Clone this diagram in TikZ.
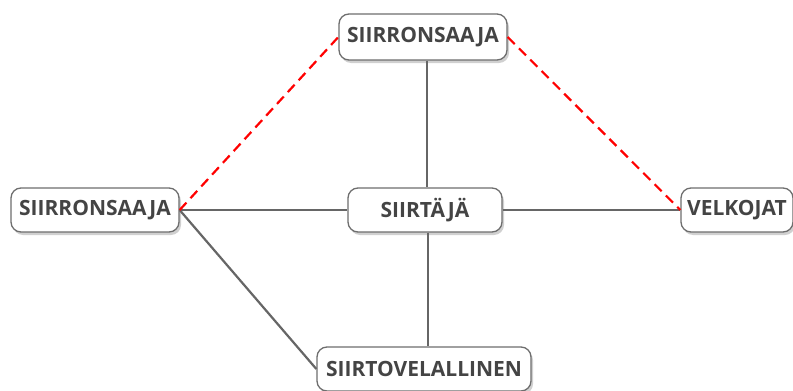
\documentclass[tikz,border=0pt]{standalone}
\usepackage{fontspec}
\setmainfont{Open Sans}
\usetikzlibrary{shadows}
\definecolor{txt}{HTML}{444444}
\definecolor{edge}{HTML}{666666}
\definecolor{bord}{HTML}{6E6E6E}
\begin{document}
\begin{tikzpicture}[x=1pt,y=-1pt,
  box/.style={draw=bord, line width=1.3pt, fill=white, rounded corners=10pt,
    font=\fontsize{21}{24}\selectfont\bfseries, text=txt, minimum height=44pt,
    inner sep=0pt, drop shadow={shadow xshift=2pt, shadow yshift=-3pt, opacity=0.3, fill=black!60}},
  conn/.style={draw=edge, line width=2.2pt},
  dashconn/.style={draw=red, line width=2.2pt, dash pattern=on 10pt off 6pt}]
\useasboundingbox[fill=white] (0,0) rectangle (793,391);
\node[box, minimum width=168pt, minimum height=46pt] (top) at (423,37) {SIIRRONSAAJA};
\node[box, minimum width=168pt] (left) at (95,210) {SIIRRONSAAJA};
\node[box, minimum width=154pt] (mid) at (425,210) {SIIRTÄJÄ};
\node[box, minimum width=112pt] (right) at (737,210) {VELKOJAT};
\node[box, minimum width=214pt] (bot) at (424,369) {SIIRTOVELALLINEN};
\draw[conn] (left.east) -- (mid.west);
\draw[conn] (mid.east) -- (right.west);
\draw[conn] (top.south -| 427,0) -- (mid.north -| 427,0);
\draw[conn] (mid.south -| 428,0) -- (bot.north -| 428,0);
\draw[conn] (left.east) -- (bot.west);
\draw[dashconn] (left.east) -- (top.west);
\draw[dashconn] (top.east) -- (right.west);
\end{tikzpicture}
\end{document}
